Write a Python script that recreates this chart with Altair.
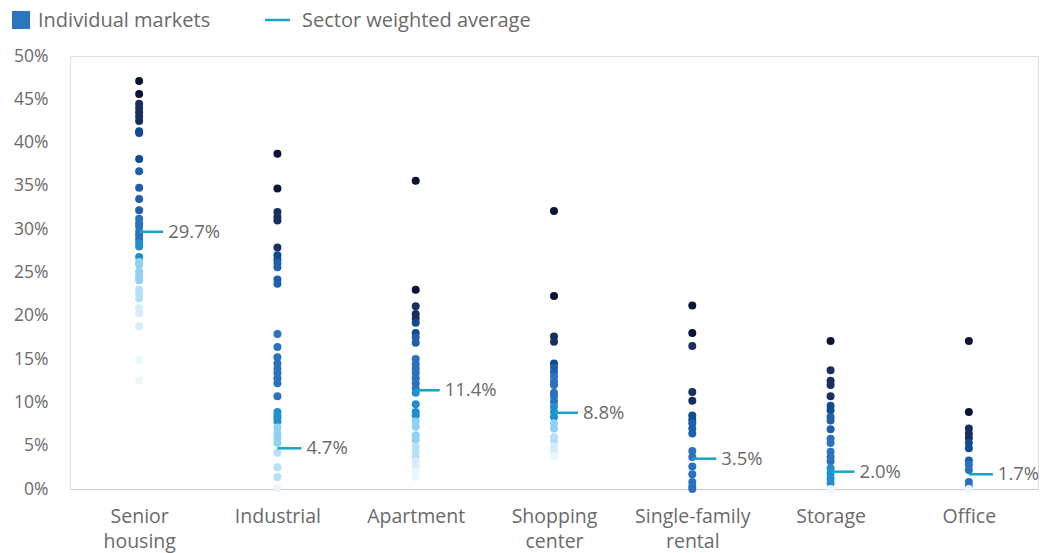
import altair as alt
import pandas as pd

sectors = ["Senior\nhousing", "Industrial", "Apartment", "Shopping\ncenter",
           "Single-family\nrental", "Storage", "Office"]

senior = [47.1, 45.6, 44.5, 44.0, 43.5, 43.0, 42.5, 41.3, 41.1, 38.1, 36.7, 34.8, 33.5, 32.2,
          31.2, 30.7, 30.3, 29.7, 29.3, 28.8, 28.4, 28.0, 26.8, 26.2, 25.9, 25.1, 24.5, 24.1,
          23.0, 22.6, 22.0, 20.9, 20.3, 18.8, 14.9, 12.5]
senior_shade = [0, 0, 1, 1, 1, 1, 1, 2, 2, 2, 3, 3, 3, 3, 4, 4, 4, 4, 4, 4, 5, 5, 5, 6, 6, 6, 6, 6,
                7, 7, 7, 8, 8, 8, 9, 9]

industrial = [38.7, 34.7, 32.0, 31.4, 31.0, 27.9, 27.0, 26.5, 26.1, 25.6, 24.2, 23.7, 17.9, 16.4,
              15.2, 14.5, 13.9, 13.4, 12.8, 12.2, 10.7, 8.9, 8.5, 8.2, 7.8, 7.1, 6.4, 5.9, 5.3,
              4.2, 2.5, 1.4, 0.1]
industrial_shade = [0, 0, 1, 1, 1, 1, 2, 2, 3, 3, 3, 3, 4, 4, 4, 4, 4, 4, 4, 4, 4, 5, 5, 5, 5,
                    6, 6, 6, 6, 7, 7, 7, 9]

apartment = [35.6, 23.0, 21.1, 20.2, 19.7, 19.2, 18.0, 17.5, 16.9, 15.0, 14.4, 13.9, 13.4, 12.8,
             12.2, 11.6, 11.1, 9.8, 8.9, 8.5, 7.8, 7.2, 6.2, 5.7, 4.9, 4.3, 3.7, 3.2, 2.6, 2.0, 1.4]
apartment_shade = [0, 0, 1, 1, 1, 2, 2, 3, 3, 4, 4, 4, 4, 4, 4, 4, 5, 5, 5, 5, 6, 6, 6, 6,
                   7, 7, 7, 8, 8, 9, 9]

shopping = [32.1, 22.3, 17.6, 17.0, 14.5, 14.0, 13.5, 13.0, 12.4, 12.0, 11.1, 10.7, 10.1, 9.5,
            8.9, 8.3, 7.6, 7.0, 6.0, 5.5, 4.9, 4.3, 3.8]
shopping_shade = [0, 0, 1, 1, 2, 3, 3, 4, 4, 4, 4, 4, 4, 5, 5, 5, 6, 6, 7, 7, 8, 8, 9]

single_family = [21.2, 18.0, 16.5, 11.2, 10.2, 8.5, 8.0, 7.6, 7.0, 6.4, 4.4, 3.7, 2.6, 1.7,
                 0.8, 0.3, 0.0]
single_family_shade = [0, 0, 1, 1, 1, 2, 2, 3, 3, 3, 4, 4, 4, 4, 4, 4, 4]

storage = [17.1, 13.7, 12.5, 12.0, 10.7, 9.6, 9.1, 8.3, 7.9, 6.9, 5.8, 5.3, 4.3, 3.7, 3.2,
           2.4, 1.8, 1.2, 0.7, 0.0]
storage_shade = [0, 1, 1, 1, 1, 2, 2, 3, 3, 3, 4, 4, 4, 4, 4, 5, 5, 5, 5, 9]

office = [17.1, 8.9, 7.0, 6.4, 5.9, 5.3, 4.7, 3.3, 2.8, 2.2, 0.8, 0.3, 0.0]
office_shade = [0, 0, 1, 1, 1, 2, 2, 3, 4, 4, 4, 4, 9]

averages = [29.7, 4.7, 11.4, 8.8, 3.5, 2.0, 1.7]

shade_colors = ["#0b1433", "#1a2f5e", "#0f4c93", "#1f5fae", "#2a72be",
                "#1f8fd1", "#8ed2f3", "#b5e0f7", "#d5ecf9", "#e9f6fd"]

series = [(senior, senior_shade), (industrial, industrial_shade), (apartment, apartment_shade),
          (shopping, shopping_shade), (single_family, single_family_shade),
          (storage, storage_shade), (office, office_shade)]

rows = []
for s, (vals, shades) in zip(sectors, series):
    for i, (v, sh) in enumerate(zip(vals, shades)):
        rows.append({"sector": s, "value": v, "shade": sh, "order": i})
points_df = pd.DataFrame(rows)
avg_df = pd.DataFrame({"sector": sectors, "avg": averages,
                       "label": [f"{a:.1f}%" for a in averages]})

FONT = "Open Sans"
TEXT = "#6a6a6a"
TEAL = "#18a3c7"

xscale = alt.Scale(type="point", padding=0.5, domain=sectors)
yscale = alt.Scale(domain=[0, 50], nice=False, zero=True)

xaxis = alt.Axis(title=None, ticks=False, domainColor="#cccccc", domainWidth=1,
                 labelExpr="split(datum.label, '\\n')", labelFont=FONT, labelFontSize=19.5,
                 labelColor=TEXT, labelPadding=18, labelLineHeight=25, labelBaseline="top",
                 labelAngle=0)
yaxis = alt.Axis(title=None, ticks=False, domain=False, grid=False,
                 values=list(range(0, 51, 5)), labelExpr="datum.value + '%'",
                 labelFont=FONT, labelFontSize=17.5, labelColor=TEXT, labelPadding=22)

points = alt.Chart(points_df).mark_circle(size=64, opacity=1).encode(
    x=alt.X("sector:N", scale=xscale, axis=xaxis, sort=sectors),
    y=alt.Y("value:Q", scale=yscale, axis=yaxis),
    color=alt.Color("shade:O", scale=alt.Scale(domain=list(range(10)), range=shade_colors),
                    legend=None),
    order=alt.Order("order:Q"),
)

rules = alt.Chart(avg_df).mark_rule(color=TEAL, strokeWidth=2.5, x2Offset=24).encode(
    x=alt.X("sector:N", scale=xscale, sort=sectors),
    x2=alt.X2("sector"),
    y=alt.Y("avg:Q", scale=yscale),
    y2=alt.Y2("avg"),
)

labels = alt.Chart(avg_df).mark_text(align="left", baseline="middle", dx=29, font=FONT,
                                     fontSize=18.5, color=TEXT).encode(
    x=alt.X("sector:N", scale=xscale, sort=sectors),
    y=alt.Y("avg:Q", scale=yscale),
    text="label:N",
)

one = pd.DataFrame({"k": [0]})
leg_sq = alt.Chart(one).mark_square(size=324, opacity=1, color="#2b74bf").encode(
    x=alt.value(-49), y=alt.value(-36))
leg_t1 = alt.Chart(one).mark_text(align="left", baseline="middle", font=FONT, fontSize=20,
                                  color=TEXT, text="Individual markets").encode(
    x=alt.value(-32), y=alt.value(-35))
leg_ln = alt.Chart(one).mark_rule(color=TEAL, strokeWidth=2.5).encode(
    x=alt.value(195), x2=alt.value(220), y=alt.value(-36))
leg_t2 = alt.Chart(one).mark_text(align="left", baseline="middle", font=FONT, fontSize=20,
                                  color=TEXT, text="Sector weighted average").encode(
    x=alt.value(232), y=alt.value(-35))

chart = alt.layer(points, rules, labels, leg_sq, leg_t1, leg_ln, leg_t2).properties(
    width=968, height=433,
    autosize=alt.AutoSizeParams(type="none"),
    padding={"left": 70, "top": 56, "right": 5, "bottom": 64},
).configure_view(stroke=None).configure(background="white")

chart.save("out.html", embed_options={"renderer": "svg", "actions": False})
